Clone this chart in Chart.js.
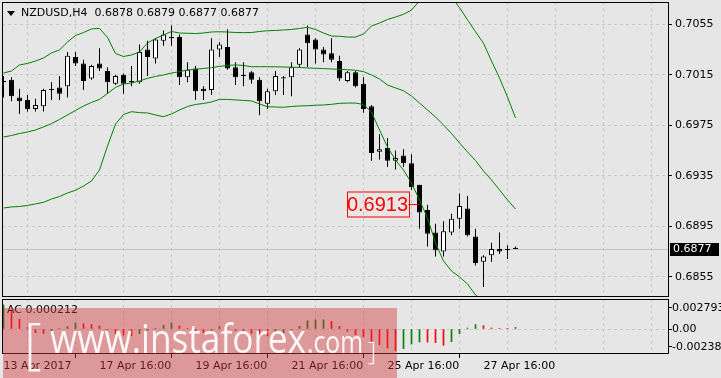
<!DOCTYPE html>
<html>
<head>
<meta charset="utf-8">
<script src="https://cdn.jsdelivr.net/npm/chart.js@4.4.0/dist/chart.umd.min.js"></script>
<style>
html,body{margin:0;padding:0;background:#e6e6e6;}
#wrap{position:relative;width:721px;height:378px;overflow:hidden;background:#e6e6e6;font-family:"DejaVu Sans",sans-serif;}
canvas{position:absolute;left:0;}
#main{top:0;}
#sub{top:298px;}
.lbl{position:absolute;font-size:11px;line-height:11px;color:#000;white-space:pre;font-family:"DejaVu Sans",sans-serif;}
#tri{position:absolute;left:7px;top:11px;width:0;height:0;border-left:4px solid transparent;border-right:4px solid transparent;border-top:5px solid #000;}
#wmbox{position:absolute;left:3px;top:308px;width:394px;height:70px;background:rgba(210,57,61,0.45);}
.wm{position:absolute;color:rgba(255,255,255,0.92);font-family:"Open Sans","Lato",sans-serif;font-weight:400;white-space:pre;line-height:1;transform-origin:0 0;}
</style>
</head>
<body>
<div id="wrap">
  <canvas id="main" width="721" height="298"></canvas>
  <canvas id="sub" width="721" height="80"></canvas>
  <div id="tri"></div>
  <div id="title" class="lbl" style="left:21px;top:7px;"></div>
  <div id="aclbl" class="lbl" style="left:7px;top:304px;"></div>
  <div id="wmbox"></div>
  <span id="wb1" class="wm" style="left:24px;top:314px;font-size:55px;font-weight:300;">[</span>
  <span id="wmain" class="wm" style="left:50px;top:318px;font-size:40px;">www.instaforex</span>
  <span id="wcom" class="wm" style="left:307px;top:326px;font-size:31px;">.com</span>
  <span id="wb2" class="wm" style="left:368px;top:337px;font-size:26px;font-weight:300;">]</span>
</div>
<script>
// ---------------- data ----------------
const symbolName = 'NZDUSD,H4';
const opens = [0.7009,0.7011,0.6997,0.6995,0.6988,0.6990,0.7003,0.7005,0.7006,0.7029,
0.7024,0.7012,0.7024,0.7018,0.7008,0.7015,0.7010,0.7009,0.7035,0.7028,
0.7042,0.7045,0.7045,0.7013,0.7020,0.7004,0.7003,0.7035,0.7037,0.7021,
0.7015,0.7017,0.7011,0.6992,0.7002,0.7013,0.7013,0.7023,0.7047,0.7043,
0.7035,0.7032,0.7026,0.7010,0.7017,0.7008,0.6990,0.6954,0.6957,0.6947,
0.6951,0.6945,0.6928,0.6908,0.6890,0.6875,0.6890,0.6901,0.6909,0.6887,
0.6867,0.6872,0.6877,0.6877,0.6878];
const highs = [0.7014,0.7013,0.7004,0.6999,0.6996,0.7004,0.7009,0.7014,0.7033,0.7033,
0.7027,0.7023,0.7036,0.7021,0.7015,0.7016,0.7022,0.7039,0.7042,0.7044,
0.7050,0.7054,0.7047,0.7025,0.7022,0.7006,0.7044,0.7041,0.7051,0.7025,
0.7025,0.7018,0.7013,0.7004,0.7018,0.7014,0.7025,0.7036,0.7054,0.7044,
0.7037,0.7044,0.7030,0.7018,0.7018,0.7013,0.6991,0.6968,0.6965,0.6955,
0.6956,0.6952,0.6928,0.6912,0.6897,0.6899,0.6905,0.6921,0.6919,0.6893,
0.6872,0.6882,0.6890,0.6880,0.6879];
const lows = [0.6997,0.6994,0.6984,0.6986,0.6986,0.6986,0.6995,0.6995,0.6997,0.7022,
0.7003,0.7011,0.7018,0.7000,0.7007,0.7000,0.7006,0.7008,0.7014,0.7024,
0.7038,0.7038,0.7007,0.7009,0.6995,0.6995,0.6999,0.7029,0.7019,0.7007,
0.7006,0.7008,0.6983,0.6988,0.6999,0.6999,0.6998,0.7021,0.7021,0.7024,
0.7025,0.7025,0.7010,0.7009,0.7005,0.6985,0.6947,0.6948,0.6942,0.6940,
0.6942,0.6924,0.6893,0.6879,0.6871,0.6871,0.6888,0.6893,0.6887,0.6864,
0.6847,0.6867,0.6873,0.6869,0.6877];
const closes = [0.7010,0.6998,0.6994,0.6988,0.6991,0.7003,0.7003,0.7000,0.7030,0.7024,
0.7010,0.7022,0.7020,0.7009,0.7014,0.7008,0.7009,0.7033,0.7029,0.7043,
0.7047,0.7044,0.7013,0.7019,0.7002,0.7002,0.7035,0.7039,0.7020,0.7013,
0.7014,0.7011,0.6994,0.7002,0.7014,0.7012,0.7021,0.7035,0.7040,0.7035,
0.7031,0.7027,0.7012,0.7017,0.7006,0.6988,0.6953,0.6956,0.6947,0.6949,
0.6945,0.6926,0.6906,0.6889,0.6876,0.6891,0.6901,0.6911,0.6888,0.6866,
0.6871,0.6877,0.6875,0.6876,0.6877];
const bbUpper = [0.70164,0.70180,0.70228,0.70240,0.70259,0.70283,0.70323,0.70347,0.70410,0.70461,
0.70485,0.70513,0.70518,0.70446,0.70319,0.70295,0.70307,0.70331,0.70402,0.70438,
0.70465,0.70493,0.70481,0.70479,0.70477,0.70481,0.70489,0.70491,0.70489,0.70485,
0.70484,0.70485,0.70493,0.70499,0.70501,0.70505,0.70509,0.70517,0.70526,0.70509,
0.70481,0.70457,0.70455,0.70449,0.70449,0.70473,0.70537,0.70560,0.70588,0.70608,
0.70629,0.70663,0.70735,0.70782,0.70806,0.70798,0.70766,0.70682,0.70586,0.70491,
0.70400,0.70259,0.70125,0.69974,0.69808];
const bbMiddle = [0.69657,0.69669,0.69685,0.69697,0.69713,0.69737,0.69764,0.69796,0.69832,0.69867,
0.69903,0.69931,0.69955,0.70002,0.70050,0.70077,0.70085,0.70101,0.70122,0.70137,
0.70149,0.70164,0.70175,0.70188,0.70194,0.70200,0.70206,0.70217,0.70224,0.70228,
0.70224,0.70214,0.70214,0.70214,0.70213,0.70212,0.70210,0.70208,0.70204,0.70202,
0.70199,0.70196,0.70194,0.70190,0.70186,0.70175,0.70149,0.70117,0.70069,0.70046,
0.70024,0.69982,0.69927,0.69871,0.69816,0.69753,0.69685,0.69610,0.69539,0.69471,
0.69388,0.69317,0.69238,0.69159,0.69087];
const bbLower = [0.69095,0.69103,0.69107,0.69115,0.69127,0.69140,0.69166,0.69186,0.69214,0.69235,
0.69269,0.69309,0.69396,0.69586,0.69760,0.69836,0.69858,0.69850,0.69848,0.69832,
0.69818,0.69840,0.69871,0.69899,0.69915,0.69923,0.69935,0.69955,0.69955,0.69951,
0.69947,0.69943,0.69919,0.69897,0.69895,0.69893,0.69899,0.69903,0.69905,0.69909,
0.69911,0.69916,0.69924,0.69926,0.69926,0.69915,0.69855,0.69713,0.69578,0.69475,
0.69396,0.69293,0.69159,0.69016,0.68818,0.68675,0.68596,0.68549,0.68493,0.68406,
0.68360,0.68340,0.68320,0.68300,0.68290];
const acValues = [0.0032,0.0023,0.0013,0.0002,-0.0005,-0.0006,-0.0004,0.0001,0.0003,0.0008,
0.0007,0.0006,0.0004,-0.0001,-0.0006,-0.0008,-0.0009,-0.0006,-0.0002,0.0001,
0.0005,0.0008,0.0004,0.0001,-0.0003,-0.0005,-0.0002,0.0003,0.0002,-0.0002,
-0.0004,-0.0006,-0.0008,-0.0009,-0.0007,-0.0005,-0.0001,0.00035,0.0011,0.0012,
0.00122,0.0010,0.00035,-0.0003,-0.00075,-0.00106,-0.00164,-0.00208,-0.00253,-0.00288,
-0.00261,-0.0020,-0.00173,-0.00175,-0.00182,-0.00217,-0.00168,-0.00062,0.00013,0.00058,
0.00044,0.00013,0.00008,0.00004,0.000212];
const priceTicks = [0.6855,0.6895,0.6935,0.6975,0.7015,0.7055];
const acTicks = [-0.00238,0,0.002793];
const acTickLabels = ['-0.00238','0.00','0.002793'];
const timeTickBars = [0,12,24,36,48,60];
const timeTickLabels = ['13 Apr 2017','17 Apr 16:00','19 Apr 16:00','21 Apr 16:00','25 Apr 16:00','27 Apr 16:00'];
const gridBars = [6,12,18,24,30,36,42,48,54,60,66,72,78];
const markedBar = 52;
const markedPrice = 0.6913;

// ---------------- setup ----------------
Chart.defaults.font.family = '"DejaVu Sans", sans-serif';
Chart.defaults.font.size = 11;
Chart.defaults.color = '#000';

const idx = opens.map((_, i) => i);
const last = idx.length - 1;
const xMin = -0.1875, xMax = 83.0625;
const GRID = '#c8c8c8';
const DASH = [3, 3];

document.getElementById('title').textContent =
  symbolName + '  ' + [opens[last], highs[last], lows[last], closes[last]].map(v => v.toFixed(4)).join(' ');
document.getElementById('aclbl').textContent = 'AC ' + acValues[last].toFixed(6);

const framePlugin = {
  id: 'frame',
  afterDraw(chart) {
    const {ctx, chartArea: a} = chart;
    ctx.save();
    ctx.strokeStyle = '#000';
    ctx.lineWidth = 1;
    ctx.setLineDash([]);
    ctx.strokeRect(a.left + 0.5, a.top + 0.5, a.right - a.left, a.bottom - a.top);
    ctx.restore();
  }
};

const bidPlugin = {
  id: 'bid',
  beforeDatasetsDraw(chart) {
    const {ctx, chartArea: a, scales} = chart;
    const y = Math.round(scales.y.getPixelForValue(closes[last])) + 0.5;
    ctx.save();
    ctx.strokeStyle = '#c0c0c0';
    ctx.lineWidth = 1;
    ctx.setLineDash([]);
    ctx.beginPath(); ctx.moveTo(a.left, y); ctx.lineTo(a.right, y); ctx.stroke();
    ctx.restore();
  },
  afterDraw(chart) {
    const {ctx, chartArea: a, scales} = chart;
    const y = Math.round(scales.y.getPixelForValue(closes[last]));
    ctx.save();
    ctx.fillStyle = '#000';
    ctx.fillRect(a.right + 2, y - 6, 49, 13);
    ctx.fillStyle = '#fff';
    ctx.font = '11px "DejaVu Sans", sans-serif';
    ctx.textBaseline = 'middle';
    ctx.textAlign = 'left';
    ctx.fillText(closes[last].toFixed(4), a.right + 5, y + 0.5);
    ctx.restore();
  }
};

const markPlugin = {
  id: 'mark',
  afterDatasetsDraw(chart) {
    const {ctx, scales} = chart;
    const x = scales.x.getPixelForValue(markedBar);
    const y = Math.round(scales.y.getPixelForValue(markedPrice)) + 0.5;
    ctx.save();
    ctx.strokeStyle = '#ff0000';
    ctx.lineWidth = 1;
    ctx.setLineDash([]);
    ctx.beginPath(); ctx.moveTo(x - 11, y); ctx.lineTo(x, y); ctx.stroke();
    ctx.strokeRect(Math.round(x - 73) + 0.5, y - 12.5, 62, 25);
    ctx.fillStyle = '#ff0000';
    ctx.font = '20px "Liberation Sans", Arial, sans-serif';
    ctx.textAlign = 'center';
    ctx.textBaseline = 'middle';
    ctx.fillText(markedPrice.toFixed(4), x - 42, y + 1);
    ctx.restore();
  }
};

// ---------------- main price panel ----------------
new Chart(document.getElementById('main'), {
  type: 'bar',
  data: {
    datasets: [
      {type: 'line', label: 'BB upper', data: idx.map(i => ({x: i, y: bbUpper[i]})), borderColor: '#008000', borderWidth: 1, pointRadius: 0, tension: 0, order: 0, clip: 0},
      {type: 'line', label: 'BB middle', data: idx.map(i => ({x: i, y: bbMiddle[i]})), borderColor: '#008000', borderWidth: 1, pointRadius: 0, tension: 0, order: 0, clip: 0},
      {type: 'line', label: 'BB lower', data: idx.map(i => ({x: i, y: bbLower[i]})), borderColor: '#008000', borderWidth: 1, pointRadius: 0, tension: 0, order: 0, clip: 0},
      {type: 'bar', label: 'body', data: idx.map(i => ({x: i, y: [Math.min(opens[i], closes[i]), Math.max(opens[i], closes[i])]})),
        backgroundColor: idx.map(i => closes[i] > opens[i] ? '#ffffff' : '#000000'),
        borderColor: '#000', borderWidth: 1, borderSkipped: false, maxBarThickness: 5, minBarLength: 1, grouped: false, order: 1, clip: 0},
      {type: 'bar', label: 'wick', data: idx.map(i => ({x: i, y: [lows[i], highs[i]]})),
        backgroundColor: '#000', borderWidth: 0, maxBarThickness: 1, grouped: false, order: 2, clip: 0}
    ]
  },
  options: {
    responsive: false, animation: false, events: [],
    layout: {padding: {left: 2, top: 2, right: 0, bottom: 2}},
    plugins: {legend: {display: false}, tooltip: {enabled: false}},
    scales: {
      x: {
        type: 'linear', min: xMin, max: xMax, bounds: 'data', offset: false,
        afterBuildTicks: s => { s.ticks = gridBars.map(v => ({value: v})); },
        ticks: {display: false},
        grid: {color: GRID, drawTicks: false, lineWidth: 1, borderDash: DASH},
        border: {display: false, dash: DASH},
        afterFit: s => { s.height = 0; s.paddingLeft = 0; s.paddingRight = 0; }
      },
      y: {
        type: 'linear', position: 'right', min: 0.683979, max: 0.707266, bounds: 'data',
        afterBuildTicks: s => { s.ticks = priceTicks.map(v => ({value: v})); },
        ticks: {color: '#000', padding: 3, autoSkip: false, callback: v => v.toFixed(4), font: {size: 11}},
        grid: {color: GRID, tickColor: '#000', tickLength: 4, tickBorderDash: [], borderDash: DASH},
        border: {display: false, dash: DASH},
        afterFit: s => { s.width = 53; s.paddingTop = 0; s.paddingBottom = 0; }
      }
    }
  },
  plugins: [bidPlugin, markPlugin, framePlugin]
});

// ---------------- AC panel ----------------
new Chart(document.getElementById('sub'), {
  type: 'bar',
  data: {
    datasets: [{
      label: 'AC',
      data: idx.map(i => ({x: i, y: acValues[i]})),
      backgroundColor: idx.map(i => (i === 0 || acValues[i] > acValues[i - 1]) ? '#008000' : '#ff0000'),
      borderWidth: 0, barThickness: 1, clip: 0
    }]
  },
  options: {
    responsive: false, animation: false, events: [],
    layout: {padding: {left: 2, top: 1, right: 0, bottom: 0}},
    plugins: {legend: {display: false}, tooltip: {enabled: false}},
    scales: {
      x: {
        type: 'linear', min: xMin, max: xMax, bounds: 'data', offset: false,
        afterBuildTicks: s => { s.ticks = [0].concat(gridBars).map(v => ({value: v})); },
        ticks: {
          autoSkip: false, maxRotation: 0, minRotation: 0, align: 'start', padding: 2, color: '#000', font: {size: 11},
          callback: v => { const k = timeTickBars.indexOf(v); return k >= 0 ? timeTickLabels[k] : ''; }
        },
        grid: {
          color: c => (c.tick && c.tick.value === 0) ? 'rgba(0,0,0,0)' : GRID,
          tickColor: c => (c.tick && timeTickBars.indexOf(c.tick.value) >= 0) ? '#000' : 'rgba(0,0,0,0)',
          tickLength: 5, tickBorderDash: [], borderDash: DASH
        },
        border: {display: false, dash: DASH},
        afterFit: s => { s.height = 25; s.paddingLeft = 0; s.paddingRight = 0; }
      },
      y: {
        type: 'linear', position: 'right', min: -24 / 7519, max: 30 / 7519, bounds: 'data',
        afterBuildTicks: s => { s.ticks = acTicks.map(v => ({value: v})); },
        ticks: {
          color: '#000', padding: 0, autoSkip: false, font: {size: 11},
          callback: v => { const k = acTicks.indexOf(v); return k >= 0 ? acTickLabels[k] : ''; }
        },
        grid: {
          color: c => (c.tick && c.tick.value === 0) ? GRID : 'rgba(0,0,0,0)',
          tickColor: '#000', tickLength: 4, tickBorderDash: [], borderDash: DASH
        },
        border: {display: false, dash: DASH},
        afterFit: s => { s.width = 53; s.paddingTop = 0; s.paddingBottom = 0; }
      }
    }
  },
  plugins: [framePlugin]
});

// ---------------- watermark sizing ----------------
function fitWidth(id, w) {
  const el = document.getElementById(id);
  const cw = el.getBoundingClientRect().width;
  if (cw > 0) el.style.transform = 'scaleX(' + (w / cw) + ')';
}
fitWidth('wmain', 256);
fitWidth('wcom', 56);
</script>
</body>
</html>
